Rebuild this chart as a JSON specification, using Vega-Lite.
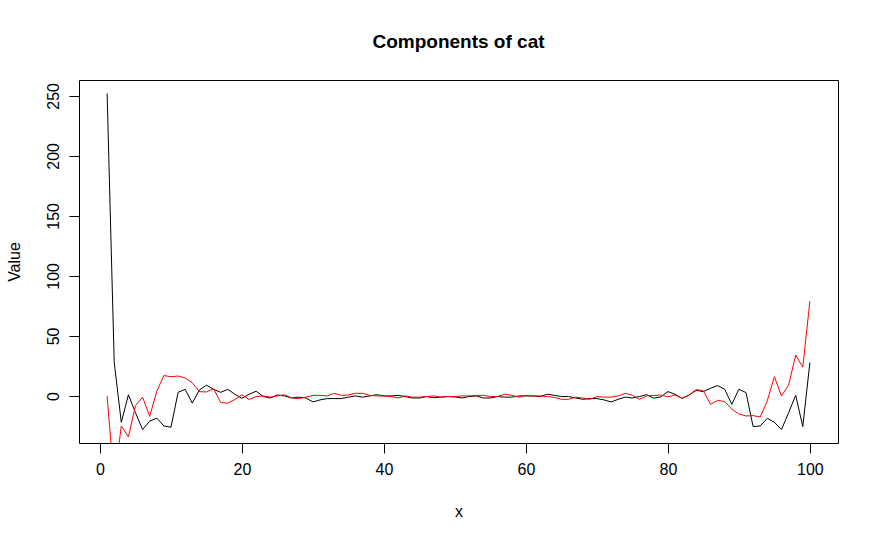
{
  "$schema": "https://vega.github.io/schema/vega-lite/v6.json",
  "width": 759,
  "height": 363,
  "padding": {"left": 79, "top": 80, "right": 42, "bottom": 98},
  "autosize": {"type": "none"},
  "background": "white",
  "title": {
    "text": "Components of cat",
    "font": "Liberation Sans",
    "fontSize": 19,
    "fontWeight": "bold",
    "color": "black",
    "anchor": "middle",
    "baseline": "alphabetic",
    "offset": 13
  },
  "config": {
    "view": {"stroke": "black", "strokeWidth": 1},
    "axis": {
      "domain": false,
      "grid": false,
      "tickColor": "black",
      "tickSize": 10,
      "labelColor": "black",
      "labelFont": "Liberation Sans",
      "labelFontSize": 16,
      "titleFont": "Liberation Sans",
      "titleFontSize": 16,
      "titleFontWeight": "normal",
      "titleColor": "black",
      "labelPadding": 8
    }
  },
  "data": {
    "values": [
      {"x": 1, "black": 252, "red": 0},
      {"x": 2, "black": 28, "red": -72},
      {"x": 3, "black": -22, "red": -25},
      {"x": 4, "black": 1, "red": -34},
      {"x": 5, "black": -14, "red": -8},
      {"x": 6, "black": -28, "red": -1},
      {"x": 7, "black": -21, "red": -17},
      {"x": 8, "black": -18.5, "red": 4},
      {"x": 9, "black": -25, "red": 17},
      {"x": 10, "black": -26, "red": 16},
      {"x": 11, "black": 3, "red": 16.6},
      {"x": 12, "black": 5.5, "red": 15},
      {"x": 13, "black": -6, "red": 11},
      {"x": 14, "black": 5, "red": 3.6},
      {"x": 15, "black": 9, "red": 3.3},
      {"x": 16, "black": 5.5, "red": 6},
      {"x": 17, "black": 3, "red": -5.5},
      {"x": 18, "black": 5.5, "red": -6},
      {"x": 19, "black": 1.4, "red": -3},
      {"x": 20, "black": -2, "red": 1},
      {"x": 21, "black": 1.4, "red": -3},
      {"x": 22, "black": 3.9, "red": -0.5},
      {"x": 23, "black": -0.5, "red": 0},
      {"x": 24, "black": -1.7, "red": -1},
      {"x": 25, "black": 0.8, "red": 0},
      {"x": 26, "black": 0, "red": 1},
      {"x": 27, "black": -1.7, "red": -1.7},
      {"x": 28, "black": -1, "red": -2.2},
      {"x": 29, "black": -1.7, "red": -1},
      {"x": 30, "black": -5, "red": 0.5},
      {"x": 31, "black": -3.3, "red": 0.5},
      {"x": 32, "black": -2.2, "red": 0},
      {"x": 33, "black": -2.2, "red": 2.2},
      {"x": 34, "black": -2.2, "red": 0.5},
      {"x": 35, "black": -1, "red": 0.8},
      {"x": 36, "black": 0, "red": 2.2},
      {"x": 37, "black": -1, "red": 2.2},
      {"x": 38, "black": 0, "red": 0.5},
      {"x": 39, "black": 1, "red": 0},
      {"x": 40, "black": 0, "red": 0},
      {"x": 41, "black": 0, "red": -0.5},
      {"x": 42, "black": 0.5, "red": -1.7},
      {"x": 43, "black": -0.5, "red": 0},
      {"x": 44, "black": -1.7, "red": -1},
      {"x": 45, "black": -1.7, "red": -1},
      {"x": 46, "black": -0.5, "red": -0.5},
      {"x": 47, "black": -1.5, "red": 0},
      {"x": 48, "black": -1, "red": -1},
      {"x": 49, "black": -0.5, "red": -0.5},
      {"x": 50, "black": -0.8, "red": -0.5},
      {"x": 51, "black": -1.7, "red": 0},
      {"x": 52, "black": -0.5, "red": 0},
      {"x": 53, "black": 0, "red": 0.5},
      {"x": 54, "black": -1.7, "red": 0.5},
      {"x": 55, "black": -1.7, "red": -0.5},
      {"x": 56, "black": -0.5, "red": -0.5},
      {"x": 57, "black": -1, "red": 1.4},
      {"x": 58, "black": -1, "red": 0.5},
      {"x": 59, "black": 0, "red": -1},
      {"x": 60, "black": 0, "red": 0.5},
      {"x": 61, "black": 0, "red": 0},
      {"x": 62, "black": -0.5, "red": 0},
      {"x": 63, "black": 1.4, "red": -0.5},
      {"x": 64, "black": 0.5, "red": -1.2},
      {"x": 65, "black": -0.5, "red": -2.8},
      {"x": 66, "black": -0.5, "red": -2.8},
      {"x": 67, "black": -1.7, "red": -1},
      {"x": 68, "black": -2.8, "red": -1.7},
      {"x": 69, "black": -2.2, "red": -2.8},
      {"x": 70, "black": -2.2, "red": -0.5},
      {"x": 71, "black": -3.3, "red": -1},
      {"x": 72, "black": -5, "red": -1},
      {"x": 73, "black": -2.8, "red": 0},
      {"x": 74, "black": -1, "red": 2.2},
      {"x": 75, "black": -1.7, "red": 0.5},
      {"x": 76, "black": -0.5, "red": -2.8},
      {"x": 77, "black": 1.1, "red": 0},
      {"x": 78, "black": -1.8, "red": 0.4},
      {"x": 79, "black": -0.8, "red": 0.8},
      {"x": 80, "black": 3.6, "red": -0.8},
      {"x": 81, "black": 1.4, "red": 0.8},
      {"x": 82, "black": -2, "red": -2},
      {"x": 83, "black": 0.8, "red": 0.8},
      {"x": 84, "black": 4.7, "red": 5.3},
      {"x": 85, "black": 3.6, "red": 4.2},
      {"x": 86, "black": 6.4, "red": -7},
      {"x": 87, "black": 8.6, "red": -3.6},
      {"x": 88, "black": 5.6, "red": -4.7},
      {"x": 89, "black": -7, "red": -11},
      {"x": 90, "black": 5.6, "red": -15},
      {"x": 91, "black": 2.8, "red": -16.7},
      {"x": 92, "black": -25.5, "red": -16.4},
      {"x": 93, "black": -25, "red": -17.5},
      {"x": 94, "black": -18.6, "red": -4},
      {"x": 95, "black": -22, "red": 16},
      {"x": 96, "black": -28, "red": 0},
      {"x": 97, "black": -14, "red": 9},
      {"x": 98, "black": 0.5, "red": 34},
      {"x": 99, "black": -25.5, "red": 24},
      {"x": 100, "black": 27.8, "red": 79}
    ]
  },
  "encoding": {
    "x": {
      "field": "x",
      "type": "quantitative",
      "scale": {"domain": [-2.96, 103.96], "nice": false, "zero": false},
      "axis": {"values": [0, 20, 40, 60, 80, 100], "title": "x", "titlePadding": 26}
    }
  },
  "layer": [
    {
      "mark": {"type": "line", "color": "black", "strokeWidth": 1, "clip": true},
      "encoding": {
        "y": {
          "field": "black",
          "type": "quantitative",
          "scale": {"domain": [-39.2, 263.2], "nice": false, "zero": false},
          "axis": {
            "values": [0, 50, 100, 150, 200, 250],
            "title": "Value",
            "labelAngle": -90,
            "labelAlign": "center",
            "labelBaseline": "bottom",
            "titlePadding": 23
          }
        }
      }
    },
    {
      "mark": {"type": "line", "color": "red", "strokeWidth": 1, "clip": true},
      "encoding": {
        "y": {"field": "red", "type": "quantitative"}
      }
    }
  ]
}
